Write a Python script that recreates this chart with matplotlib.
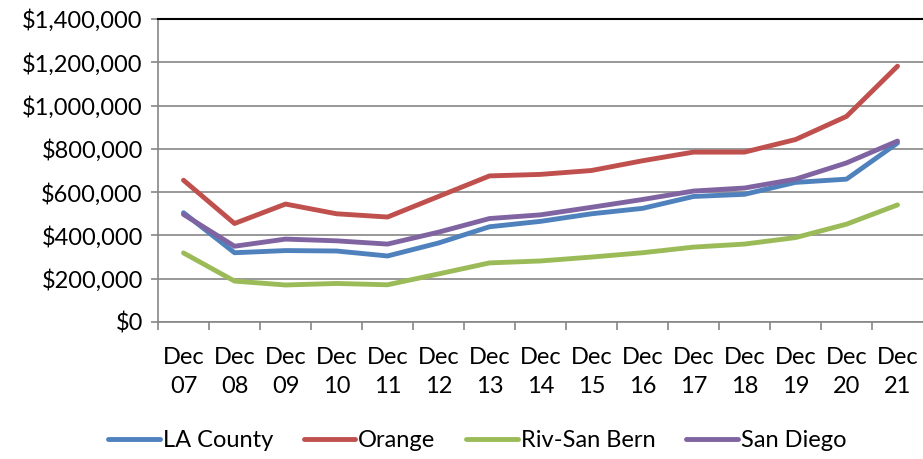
import matplotlib
matplotlib.use("Agg")
import matplotlib.pyplot as plt
from matplotlib.ticker import FuncFormatter, MultipleLocator, FixedLocator

years = ["07", "08", "09", "10", "11", "12", "13", "14", "15", "16", "17", "18", "19", "20", "21"]
labels = ["Dec\n" + y for y in years]

la_county = [505000, 320000, 330000, 328000, 305000, 365000, 440000, 465000, 500000, 525000,
             580000, 590000, 645000, 660000, 827000]
orange = [655000, 455000, 545000, 500000, 485000, 580000, 675000, 682000, 700000, 745000,
          785000, 785000, 843000, 950000, 1182000]
riv_san_bern = [319000, 189000, 171000, 178000, 172000, 222000, 273000, 282000, 300000, 320000,
                346000, 360000, 390000, 452000, 541000]
san_diego = [497000, 350000, 383000, 375000, 360000, 415000, 478000, 495000, 530000, 566000,
             605000, 619000, 660000, 735000, 836000]

series = [
    ("LA County", la_county, "#4F81BD"),
    ("Orange", orange, "#C0504D"),
    ("Riv-San Bern", riv_san_bern, "#9BBB59"),
    ("San Diego", san_diego, "#8064A2"),
]

plt.rcParams["font.family"] = ["Lato", "DejaVu Sans"]

fig = plt.figure(figsize=(9.23, 4.59), dpi=100)
ax = fig.add_axes([0.1712, 0.2985, 0.8288, 0.6601])

x = list(range(len(years)))
for name, vals, col in series:
    ax.plot(x, vals, color=col, lw=3.5, label=name, solid_capstyle="round", solid_joinstyle="round")

ax.set_ylim(0, 1400000)
ax.set_xlim(-0.5, len(years) - 0.5)
ax.yaxis.set_major_locator(MultipleLocator(200000))
ax.yaxis.set_major_formatter(FuncFormatter(lambda v, p: "${:,.0f}".format(v)))
ax.grid(axis="y", color="#868686", lw=1.2)
ax.set_axisbelow(True)

ax.set_xticks(x)
ax.set_xticklabels(labels, linespacing=1.45)
ax.xaxis.set_minor_locator(FixedLocator([i - 0.5 for i in range(len(years))]))
ax.tick_params(axis="x", which="major", length=0, pad=18, labelsize=17)
ax.tick_params(axis="x", which="minor", length=6, color="#868686", width=1.2)
ax.tick_params(axis="y", length=5, color="#868686", width=1.2, labelsize=17, pad=6)

for s in ["right"]:
    ax.spines[s].set_visible(False)
ax.spines["top"].set_color("#000000")
ax.spines["top"].set_linewidth(1.5)
ax.spines["left"].set_color("#868686")
ax.spines["left"].set_linewidth(1.2)
ax.spines["bottom"].set_color("#868686")
ax.spines["bottom"].set_linewidth(1.2)

fig.legend(loc="center", bbox_to_anchor=(0.517, 0.04), ncol=4, frameon=False,
           fontsize=17, handlelength=2.2, handletextpad=0.12, columnspacing=1.3)

fig.savefig("out.png", dpi=100)
